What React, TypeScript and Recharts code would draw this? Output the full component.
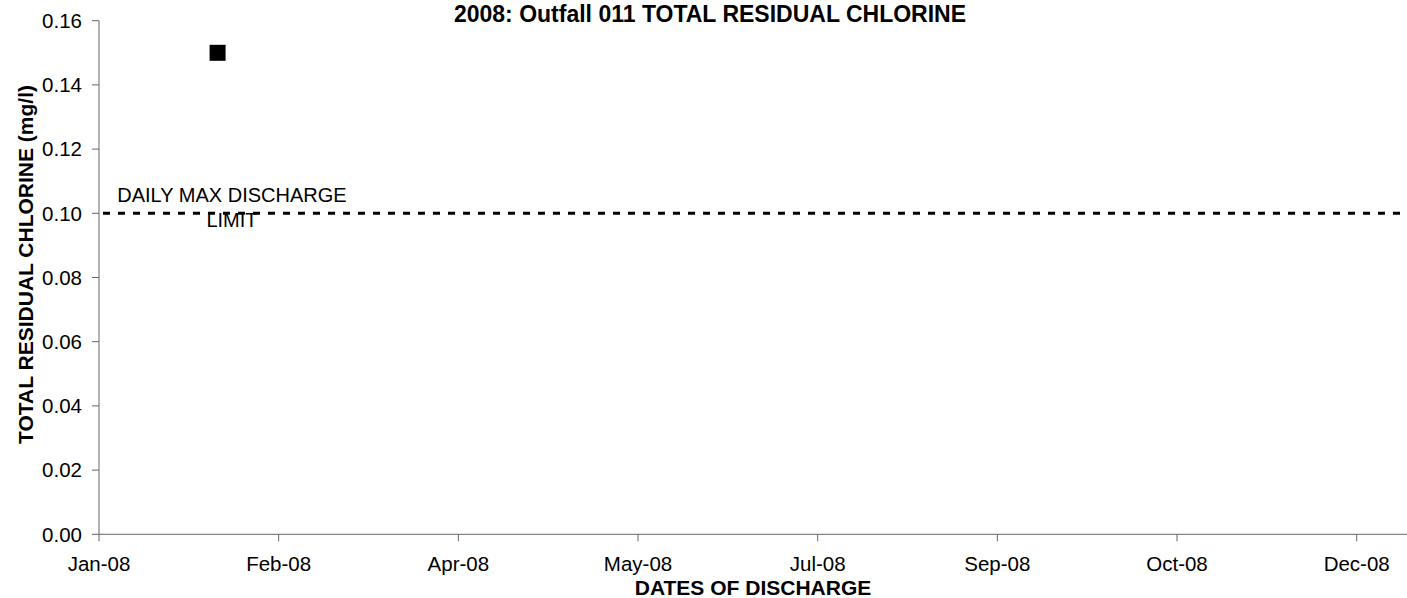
import { ComposedChart, ReferenceDot, ReferenceLine, Scatter, XAxis, YAxis } from 'recharts'

// days counted from 1 Jan 2008
const sampleDays = [33]
const chlorine = [0.15]

const dischargeLimit = 0.1
const limitLabelDay = 37
const limitLabelLines = ['DAILY MAX DISCHARGE', 'LIMIT']

const xTicks = [0, 50, 100, 150, 200, 250, 300, 350]
const yTicks = [0, 0.02, 0.04, 0.06, 0.08, 0.1, 0.12, 0.14, 0.16]
const monthNames = ['Jan', 'Feb', 'Mar', 'Apr', 'May', 'Jun', 'Jul', 'Aug', 'Sep', 'Oct', 'Nov', 'Dec']

const chartTitle = '2008: Outfall 011 TOTAL RESIDUAL CHLORINE'
const xTitle = 'DATES OF DISCHARGE'
const yTitle = 'TOTAL RESIDUAL CHLORINE (mg/l)'

const font = '"Liberation Sans", Arial, sans-serif'
const axisColor = '#666'

const data = sampleDays.map((day, i) => ({ day, value: chlorine[i] }))

function formatDay(day: number) {
  const d = new Date(2008, 0, 1 + day)
  return `${monthNames[d.getMonth()]}-${String(d.getFullYear()).slice(2)}`
}

function SquareMarker(props: any) {
  const { cx, cy } = props
  return <rect x={cx - 8} y={cy - 8} width={16} height={16} fill="#000" />
}

function LimitLabel(props: any) {
  const { viewBox } = props
  const cx = viewBox.x + viewBox.width / 2
  const cy = viewBox.y + viewBox.height / 2
  return (
    <g>
      <text x={cx} y={cy - 11} textAnchor="middle" fontSize={20} fontFamily={font} fill="#000">
        {limitLabelLines[0]}
      </text>
      <text x={cx} y={cy + 14} textAnchor="middle" fontSize={20} fontFamily={font} fill="#000">
        {limitLabelLines[1]}
      </text>
    </g>
  )
}

export default function App() {
  return (
    <div style={{ position: 'absolute', left: 0, top: 0, width: 1407, height: 598, overflow: 'hidden', background: '#fff' }}>
      <ComposedChart width={1407} height={598} data={data} margin={{ top: 20.7, right: 0, bottom: 0, left: 0 }}>
        <XAxis
          dataKey="day"
          type="number"
          domain={[0, 364]}
          ticks={xTicks}
          tickFormatter={formatDay}
          height={63.7}
          tickSize={7}
          tickMargin={15.5}
          stroke={axisColor}
          tick={{ fill: '#000', fontSize: 20.5, fontFamily: font }}
          allowDataOverflow
        />
        <YAxis
          type="number"
          domain={[0, 0.16]}
          ticks={yTicks}
          tickFormatter={(v) => Number(v).toFixed(2)}
          width={99}
          tickSize={7}
          tickMargin={10}
          stroke={axisColor}
          tick={{ fill: '#000', fontSize: 20.5, fontFamily: font }}
        />
        <ReferenceLine y={dischargeLimit} stroke="#000" strokeWidth={3} strokeDasharray="7 8" strokeDashoffset={-4} />
        <ReferenceDot x={limitLabelDay} y={dischargeLimit} r={0} fill="none" stroke="none" label={<LimitLabel />} />
        <Scatter dataKey="value" fill="#000" shape={<SquareMarker />} isAnimationActive={false} />
      </ComposedChart>
      <svg width={1407} height={598} style={{ position: 'absolute', left: 0, top: 0, pointerEvents: 'none' }}>
        <text x={710} y={21.5} textAnchor="middle" fontSize={23} fontWeight="bold" fontFamily={font} fill="#000">
          {chartTitle}
        </text>
        <text x={753} y={595} textAnchor="middle" fontSize={21} fontWeight="bold" fontFamily={font} fill="#000">
          {xTitle}
        </text>
        <text transform="translate(33,264.5) rotate(-90)" textAnchor="middle" fontSize={21} fontWeight="bold" fontFamily={font} fill="#000">
          {yTitle}
        </text>
      </svg>
    </div>
  )
}
